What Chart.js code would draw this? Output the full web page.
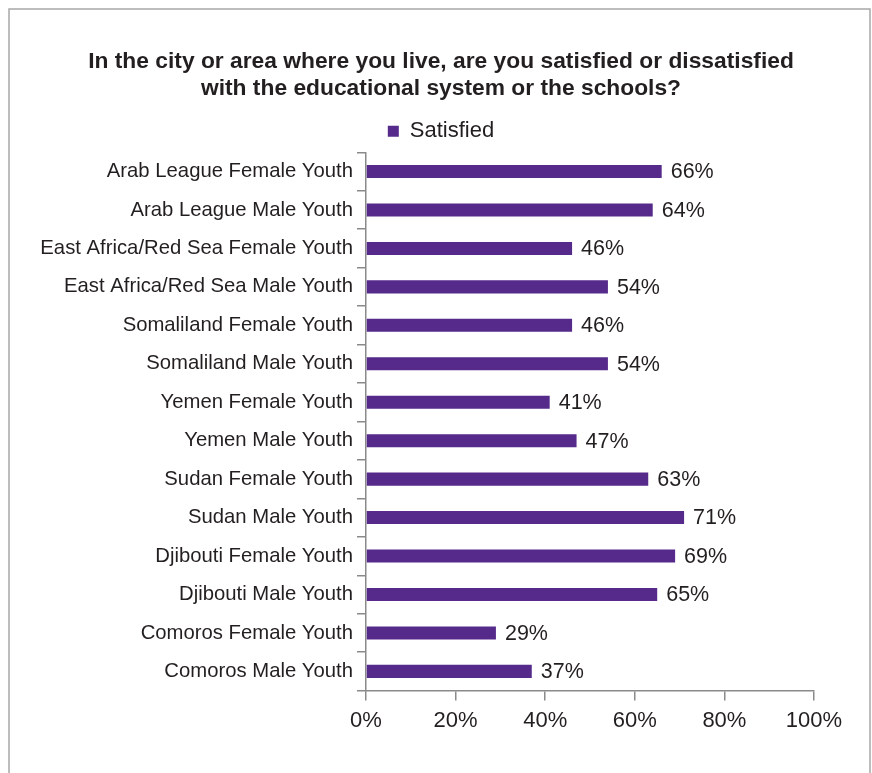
<!DOCTYPE html>
<html>
<head>
<meta charset="utf-8">
<style>
  html, body { margin: 0; padding: 0; background: #ffffff; overflow: hidden; }
  #wrap { position: absolute; left: 0; top: 0; width: 872px; height: 773px; }
</style>
<script src="https://cdn.jsdelivr.net/npm/chart.js@4.4.1/dist/chart.umd.min.js"></script>
</head>
<body>
<div id="wrap"><canvas id="c" width="872" height="773"></canvas></div>
<script>
const categories = [
  "Arab League Female Youth",
  "Arab League Male Youth",
  "East Africa/Red Sea Female Youth",
  "East Africa/Red Sea Male Youth",
  "Somaliland Female Youth",
  "Somaliland Male Youth",
  "Yemen Female Youth",
  "Yemen Male Youth",
  "Sudan Female Youth",
  "Sudan Male Youth",
  "Djibouti Female Youth",
  "Djibouti Male Youth",
  "Comoros Female Youth",
  "Comoros Male Youth"
];
const satisfied = [66, 64, 46, 54, 46, 54, 41, 47, 63, 71, 69, 65, 29, 37];
const seriesName = "Satisfied";
const xTicks = [0, 20, 40, 60, 80, 100];
const titleLines = [
  "In the city or area where you live, are you satisfied or dissatisfied",
  "with the educational system or the schools?"
];

const FONT = "'Liberation Sans', Arial, Helvetica, sans-serif";
const PURPLE = "#552a8a";
const TEXT = "#231f20";
const AXIS = "#8a8a8a";

const framePlugin = {
  id: 'frame',
  beforeDraw(chart) {
    const ctx = chart.ctx;
    ctx.save();
    ctx.strokeStyle = '#a8a8a8';
    ctx.lineWidth = 1.5;
    ctx.beginPath();
    ctx.moveTo(9, 773);
    ctx.lineTo(9, 9);
    ctx.lineTo(870, 9);
    ctx.lineTo(870, 773);
    ctx.stroke();
    ctx.restore();
  }
};

const valueLabels = {
  id: 'valueLabels',
  afterDatasetsDraw(chart) {
    const ctx = chart.ctx;
    const meta = chart.getDatasetMeta(0);
    ctx.save();
    ctx.font = "21.5px " + FONT;
    ctx.fillStyle = TEXT;
    ctx.textAlign = 'left';
    ctx.textBaseline = 'middle';
    meta.data.forEach((bar, i) => {
      ctx.fillText(chart.data.datasets[0].data[i] + '%', bar.x + 9, bar.y + 1);
    });
    ctx.restore();
  }
};

new Chart(document.getElementById('c'), {
  type: 'bar',
  data: {
    labels: categories,
    datasets: [{
      label: seriesName,
      data: satisfied,
      backgroundColor: PURPLE,
      borderWidth: 0,
      barPercentage: 0.34,
      categoryPercentage: 1.0
    }]
  },
  options: {
    indexAxis: 'y',
    responsive: false,
    animation: false,
    devicePixelRatio: 1,
    layout: { padding: { top: 0, left: 10, right: 0, bottom: 32 } },
    plugins: {
      title: {
        display: true,
        text: titleLines,
        color: TEXT,
        font: { family: FONT, size: 22.8, weight: 'bold', lineHeight: 1.18 },
        padding: { top: 48.5, bottom: 8 }
      },
      legend: {
        display: true,
        labels: {
          color: TEXT,
          font: { family: FONT, size: 22 },
          boxWidth: 11,
          boxHeight: 11,
          padding: 10
        }
      },
      tooltip: { enabled: false }
    },
    scales: {
      y: {
        type: 'category',
        afterFit(scale) { scale.width = 356; },
        border: { display: true, color: AXIS, width: 1.5 },
        grid: { display: true, drawOnChartArea: false, drawTicks: true, tickLength: 9, color: AXIS, lineWidth: 1.5, offset: true },
        ticks: { color: TEXT, font: { family: FONT, size: 20.3 }, padding: 4 }
      },
      yRightSpace: {
        type: 'linear',
        axis: 'y',
        position: 'right',
        afterFit(scale) { scale.width = 58; },
        border: { display: false },
        grid: { display: false },
        ticks: { display: false }
      },
      x: {
        type: 'linear',
        min: 0,
        max: 100,
        afterBuildTicks(scale) { scale.ticks = xTicks.map(v => ({ value: v })); },
        border: { display: true, color: AXIS, width: 1.5 },
        grid: { display: true, drawOnChartArea: false, drawTicks: true, tickLength: 10, color: AXIS, lineWidth: 1.5 },
        ticks: { color: TEXT, font: { family: FONT, size: 22 }, padding: 7, callback: v => v + '%' }
      }
    }
  },
  plugins: [framePlugin, valueLabels]
});
</script>
</body>
</html>
